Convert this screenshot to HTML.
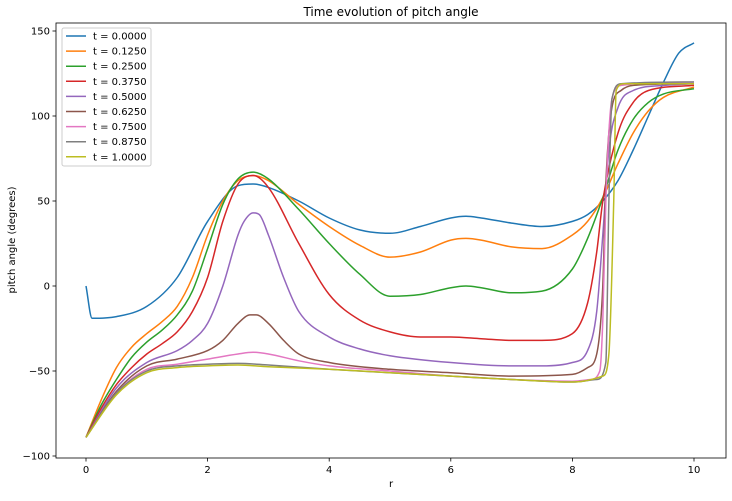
<!DOCTYPE html>
<html><head><meta charset="utf-8"><style>
body{margin:0;background:#fff;font-family:"Liberation Sans","DejaVu Sans",sans-serif;}
text{font-family:"DejaVu Sans","Liberation Sans",sans-serif;}
</style></head><body>
<svg id="chart" width="732" height="496" xmlns="http://www.w3.org/2000/svg"></svg>
<script>
const seriesLabels=["t = 0.0000","t = 0.1250","t = 0.2500","t = 0.3750","t = 0.5000","t = 0.6250","t = 0.7500","t = 0.8750","t = 1.0000"];
const colors=["#1f77b4","#ff7f0e","#2ca02c","#d62728","#9467bd","#8c564b","#e377c2","#7f7f7f","#bcbd22"];
const xTicks=[0,2,4,6,8,10];
const yTicks=[-100,-50,0,50,100,150];
const s0=[[0,0],[0.1,-19],[0.5,-18],[1,-12],[1.5,5],[2,38],[2.5,59],[2.75,60],[3,58],[3.5,50],[4,40],[4.5,33],[5,31],[5.5,35],[6,40],[6.25,41],[6.5,40],[7,37],[7.5,35],[8,38],[8.25,42],[8.5,50],[8.75,62],[9,80],[9.25,100],[9.5,120],[9.75,137],[10,143]];
const s1=[[0,-89],[0.25,-67],[0.5,-48],[0.75,-36],[1,-28],[1.25,-21],[1.5,-12],[1.75,5],[2,30],[2.25,50],[2.5,62],[2.75,65],[3,62],[3.5,48],[4,35],[4.5,24],[5,17],[5.5,20],[6,27],[6.25,28],[6.5,27],[7,23],[7.5,22],[8,30],[8.25,38],[8.5,52],[8.75,72],[9,90],[9.25,103],[9.5,111],[10,117]];
const s2=[[0,-89],[0.25,-70],[0.5,-55],[0.75,-42],[1,-33],[1.25,-26],[1.5,-17],[1.75,-3],[2,22],[2.25,48],[2.5,63],[2.75,67],[3,63],[3.5,45],[4,25],[4.5,7],[5,-6],[5.5,-5],[6,-1],[6.25,0],[6.5,-1],[7,-4],[7.5,-3],[8,10],[8.25,28],[8.5,52],[8.75,80],[9,98],[9.25,108],[9.5,113],[10,116]];
const s3=[[0,-89],[0.25,-72],[0.5,-58],[0.75,-48],[1,-40],[1.25,-34],[1.5,-27],[1.75,-15],[2,5],[2.25,38],[2.5,60],[2.75,65],[3,58],[3.5,25],[4,-5],[4.5,-20],[5,-27],[5.5,-30],[6,-30],[6.5,-31],[7,-32],[7.5,-32],[8,-28],[8.25,-10],[8.4,20],[8.5,50],[8.75,90],[9,108],[9.25,115],[10,118]];
const s4=[[0,-89],[0.5,-60],[1,-45],[1.5,-38],[1.75,-32],[2,-22],[2.25,0],[2.5,30],[2.6,38],[2.75,43],[2.85,42],[3,30],[3.25,5],[3.5,-15],[4,-30],[4.5,-37],[5,-41],[6,-45],[7,-47],[7.5,-47],[8,-45],[8.25,-38],[8.4,-15],[8.5,30],[8.6,80],[8.75,105],[9,115],[9.5,118],[10,119]];
const s5=[[0,-89],[0.5,-62],[1,-47],[1.5,-43],[2,-38],[2.25,-32],[2.5,-22],[2.7,-17],[2.8,-17],[3,-22],[3.25,-32],[3.5,-40],[4,-45],[5,-49],[6,-51],[7,-53],[8,-52],[8.25,-48],[8.4,-40],[8.5,0],[8.55,60],[8.65,105],[8.8,115],[9,118],[10,119]];
const s6=[[0,-89],[0.5,-63],[1,-49],[1.5,-46],[2,-43],[2.5,-40],[2.75,-39],[3,-40],[3.5,-44],[4,-47],[5,-50],[6,-53],[7,-55],[8,-56],[8.3,-55],[8.45,-50],[8.5,-20],[8.55,50],[8.65,110],[8.8,118],[10,120]];
const s7=[[0,-89],[0.5,-63],[1,-50],[1.5,-47],[2,-46],[2.5,-45.5],[3,-46.5],[4,-49],[5,-51],[6,-53],[7,-55],[8,-56.5],[8.4,-55],[8.55,-45],[8.6,50],[8.65,110],[8.8,119],[10,120]];
const s8=[[0,-89],[0.5,-64],[1,-51],[1.5,-48],[2,-47],[2.5,-46.5],[3,-47.5],[4,-49],[5,-51],[6,-53],[7,-55],[8,-56.5],[8.5,-53],[8.6,-40],[8.68,50],[8.72,115],[8.85,119],[10,119]];
const allSeries=[s0,s1,s2,s3,s4,s5,s6,s7,s8];

const NS="http://www.w3.org/2000/svg";
const svg=document.getElementById('chart');
const L=56,R=726,T=23,B=458;
const xS=v=>86+v*60.8;
const yS=v=>286-v*1.7;
function mk(tag,attrs,parent){const e=document.createElementNS(NS,tag);for(const k in attrs)e.setAttribute(k,attrs[k]);(parent||svg).appendChild(e);return e;}
function path(pts){
  const n=pts.length,x=pts.map(p=>xS(p[0])),y=pts.map(p=>yS(p[1]));
  const d=[],m=[];
  for(let i=0;i<n-1;i++)d.push((y[i+1]-y[i])/(x[i+1]-x[i]));
  m[0]=d[0];m[n-1]=d[n-2];
  for(let i=1;i<n-1;i++)m[i]=(d[i-1]*d[i]<=0)?0:(d[i-1]+d[i])/2;
  for(let i=0;i<n-1;i++){if(d[i]===0){m[i]=0;m[i+1]=0;continue;}const a=m[i]/d[i],b=m[i+1]/d[i],s=a*a+b*b;if(s>9){const t=3/Math.sqrt(s);m[i]=t*a*d[i];m[i+1]=t*b*d[i];}}
  let s="M"+x[0]+","+y[0];
  for(let i=0;i<n-1;i++){const h=(x[i+1]-x[i])/3;s+=" C"+(x[i]+h)+","+(y[i]+m[i]*h)+" "+(x[i+1]-h)+","+(y[i+1]-m[i+1]*h)+" "+x[i+1]+","+y[i+1];}
  return s;
}
const title=mk('text',{x:391,y:16,'text-anchor':'middle','font-size':12,fill:'#000'});title.textContent="Time evolution of pitch angle";


const g=mk('g',{});


allSeries.forEach((s,i)=>{
  const p=mk('path',{d:path(s),fill:'none',stroke:colors[i],'stroke-width':1.5},g);
  
  
});
const frame=mk('rect',{x:L,y:T,width:R-L,height:B-T,fill:'none',stroke:'#000','stroke-width':0.8});


xTicks.forEach(v=>{
  mk('line',{x1:xS(v),x2:xS(v),y1:B,y2:B+3.5,stroke:'#000','stroke-width':0.8});
  const t=mk('text',{x:xS(v),y:B+15,'text-anchor':'middle','font-size':10,fill:'#000'});t.textContent=v;
  
  
});
yTicks.forEach(v=>{
  mk('line',{x1:L-3.5,x2:L,y1:yS(v),y2:yS(v),stroke:'#000','stroke-width':0.8});
  const t=mk('text',{x:L-6,y:yS(v)+3.5,'text-anchor':'end','font-size':10,fill:'#000'});t.textContent=v<0?"\u2212"+(-v):v;
  
  
});
const xl=mk('text',{x:391,y:487,'text-anchor':'middle','font-size':10,fill:'#000'});xl.textContent="r";


const yl=mk('text',{x:15,y:240,'text-anchor':'middle','font-size':10,fill:'#000',transform:'rotate(-90 15 240)'});yl.textContent="pitch angle (degrees)";


const lg=mk('g',{});


mk('rect',{x:62,y:28,width:89,height:138,rx:2,fill:'#fff','fill-opacity':0.8,stroke:'#ccc','stroke-width':1},lg);
seriesLabels.forEach((lab,i)=>{
  const y=36+i*15.1;
  const e=mk('g',{},lg);
  
  
  mk('line',{x1:66,x2:86,y1:y,y2:y,stroke:colors[i],'stroke-width':1.5},e);
  const t=mk('text',{x:93,y:y+3.5,'font-size':10,fill:'#000'},e);t.textContent=lab;
});
</script>
</body></html>
